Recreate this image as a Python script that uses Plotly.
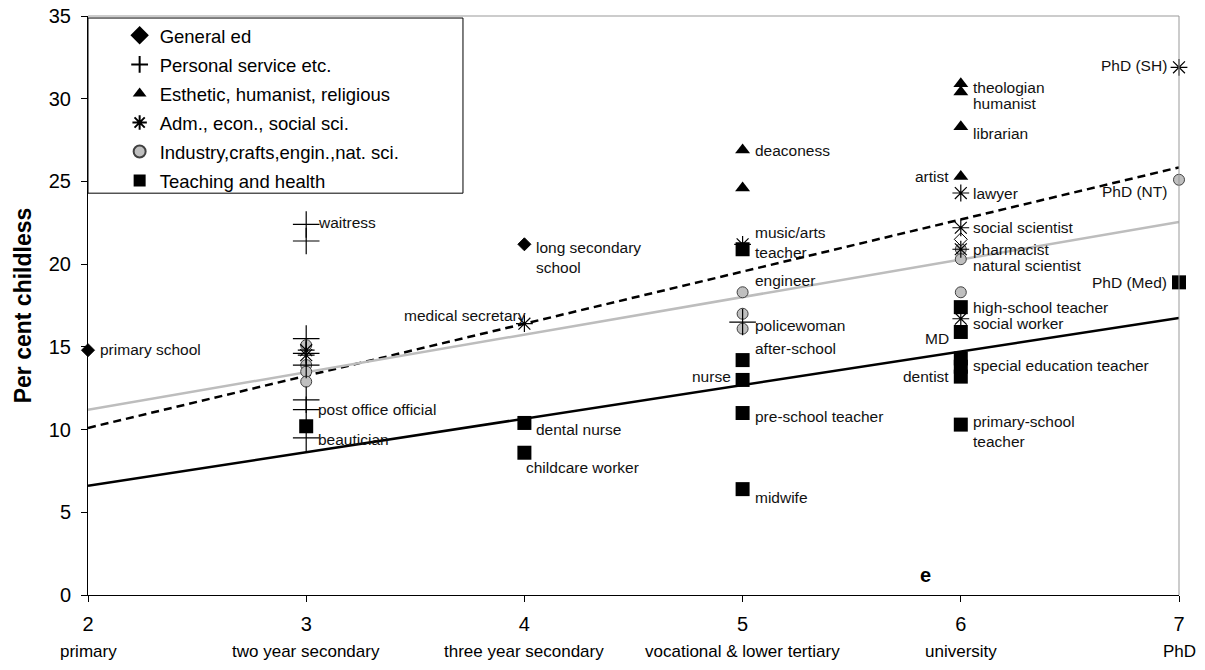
import plotly.graph_objects as go

# ---------------- data ----------------
levels = [2, 3, 4, 5, 6, 7]
level_names = ["primary", "two year secondary", "three year secondary",
               "vocational & lower tertiary", "university", "PhD"]
y_ticks = [0, 5, 10, 15, 20, 25, 30, 35]

gen_x = [2, 4, 6]
gen_y = [14.8, 21.2, 21.5]

pers_x = [3, 3, 3, 3, 3, 3, 3, 3, 5]
pers_y = [22.4, 21.4, 15.5, 14.6, 13.9, 11.8, 11.2, 9.5, 16.5]

est_x = [5, 5, 6, 6, 6, 6]
est_y = [26.9, 24.6, 30.9, 30.4, 28.3, 25.3]

adm_x = [3, 3, 4, 5, 6, 6, 6, 6, 7]
adm_y = [14.8, 14.5, 16.4, 21.2, 24.3, 22.2, 20.9, 16.7, 31.9]

ind_x = [3, 3, 3, 3, 5, 5, 5, 6, 6, 6, 7]
ind_y = [15.1, 13.9, 13.5, 12.9, 18.3, 17.0, 16.1, 20.9, 20.3, 18.3, 25.1]

teach_x = [3, 4, 4, 5, 5, 5, 5, 5, 6, 6, 6, 6, 6, 6, 7]
teach_y = [10.2, 10.4, 8.6, 20.9, 14.2, 13.0, 11.0, 6.4,
           17.4, 15.9, 14.3, 13.8, 13.2, 10.3, 18.9]

trend_x = [2, 7]
trend_dashed = [10.1, 25.85]
trend_gray = [11.2, 22.55]
trend_solid = [6.6, 16.75]

# point labels: text, x, y (text centre), side of the marker
lab_text = ["primary school", "waitress", "post office official", "beautician",
            "medical secretary", "long secondary<br>school", "dental nurse",
            "childcare worker", "deaconess", "music/arts<br>teacher", "engineer",
            "policewoman", "after-school", "nurse", "pre-school teacher", "midwife",
            "theologian", "humanist", "librarian", "artist", "lawyer",
            "social scientist", "pharmacist", "natural scientist",
            "high-school teacher", "social worker", "MD",
            "special education teacher", "dentist", "primary-school<br>teacher",
            "PhD (SH)", "PhD (NT)", "PhD (Med)"]
lab_x = [2, 3, 3, 3, 4, 4, 4, 4, 5, 5, 5, 5, 5, 5, 5, 5,
         6, 6, 6, 6, 6, 6, 6, 6, 6, 6, 6, 6, 6, 6, 7, 7, 7]
lab_y = [14.85, 22.5, 11.2, 9.4, 16.9, 20.4, 10.0, 7.7, 26.9, 21.3, 19.0,
         16.3, 14.9, 13.2, 10.8, 5.9,
         30.7, 29.7, 27.9, 25.3, 24.3, 22.2, 20.9, 19.9, 17.4, 16.4, 15.5,
         13.9, 13.2, 9.9, 32.0, 24.4, 18.9]
lab_side = ["r", "r", "r", "r", "l0", "r", "r", "c", "r", "r", "r",
            "r", "r", "l", "r", "r",
            "r", "r", "r", "l", "r", "r", "r", "r", "r", "r", "l",
            "r", "l", "r", "l", "l", "l"]

# ---------------- figure ----------------
FONT = "Liberation Sans, Arial, sans-serif"
fig = go.Figure()

for ty, st in [(trend_dashed, dict(color="black", width=2.5, dash="8px,5px")),
               (trend_gray, dict(color="#bdbdbd", width=2.5)),
               (trend_solid, dict(color="black", width=2.5))]:
    fig.add_trace(go.Scatter(x=trend_x, y=ty, mode="lines", line=st,
                             showlegend=False, hoverinfo="skip"))

series = [
    ("Industry,crafts,engin.,nat. sci.", ind_x, ind_y,
     dict(symbol="circle", size=11, color="#bfbfbf", line=dict(color="#404040", width=1)), 5),
    ("General ed", gen_x, gen_y,
     dict(symbol="diamond", size=10, color=["black", "black", "white"],
          line=dict(color="black", width=1)), 1),
    ("Esthetic, humanist, religious", est_x, est_y,
     dict(symbol="triangle-up", size=13, color="black"), 3),
    ("Adm., econ., social sci.", adm_x, adm_y,
     dict(symbol="asterisk-open", size=14, color="black", line=dict(color="black", width=1.2)), 4),
    ("Personal service etc.", pers_x, pers_y,
     dict(symbol="cross-thin-open", size=19, color="black", line=dict(color="black", width=1.2)), 2),
    ("Teaching and health", teach_x, teach_y,
     dict(symbol="square", size=14, color="black"), 6),
]
for name, xs, ys, mk, rank in series:
    fig.add_trace(go.Scatter(x=xs, y=ys, mode="markers", name=name, marker=mk,
                             legendrank=rank, legendgroup=name, cliponaxis=False))

annotations = []
for t, x, y, s in zip(lab_text, lab_x, lab_y, lab_side):
    if s == "r":
        xa, xs = "left", 10
    elif s == "l":
        xa, xs = "right", -10
    elif s == "l0":
        xa, xs = "right", 4
    else:
        xa, xs = "left", 0
    annotations.append(dict(x=x, y=y, xref="x", yref="y", text=t, showarrow=False,
                            xanchor=xa, yanchor="middle", xshift=xs, align="left",
                            font=dict(family=FONT, size=15.5, color="#111")))

for lv, nm in zip(levels, level_names):
    annotations.append(dict(x=lv, y=-0.098, xref="x", yref="paper", text=nm,
                            showarrow=False, xanchor="center", yanchor="middle",
                            font=dict(family=FONT, size=17, color="black")))

annotations.append(dict(x=5.84, y=1.2, xref="x", yref="y", text="<b>e</b>",
                        showarrow=False, xanchor="center", yanchor="middle",
                        font=dict(family=FONT, size=20, color="black")))

shapes = [
    dict(type="rect", xref="paper", yref="paper", x0=0, x1=0.3437, y0=0.694, y1=0.9965,
         line=dict(color="black", width=1), fillcolor="white", layer="below"),
    dict(type="line", xref="paper", yref="paper", x0=0, x1=1, y0=1, y1=1,
         line=dict(color="#999999", width=1)),
    dict(type="line", xref="paper", yref="paper", x0=1, x1=1, y0=0, y1=1,
         line=dict(color="#999999", width=1)),
]

# page body has an 8px margin: size and margins compensate for it
fig.update_layout(
    width=1189, height=654,
    margin=dict(l=80, r=18, t=8, b=67, autoexpand=False),
    plot_bgcolor="white", paper_bgcolor="white",
    font=dict(family=FONT, color="black"),
    showlegend=True,
    legend=dict(x=0.029, y=0.9986, xanchor="left", yanchor="top",
                bgcolor="rgba(0,0,0,0)", borderwidth=0,
                font=dict(family=FONT, size=18.5, color="black"),
                traceorder="grouped", tracegroupgap=2, itemsizing="constant"),
    xaxis=dict(range=[2, 7], tickvals=levels, ticktext=[str(v) for v in levels],
               ticks="outside", ticklen=6, tickcolor="black", ticklabelstandoff=5,
               ticklabeloverflow="allow",
               tickfont=dict(family=FONT, size=20, color="black"),
               showline=True, linecolor="black", linewidth=1,
               showgrid=False, zeroline=False, automargin=False),
    yaxis=dict(range=[0, 35], tickvals=y_ticks, ticks="outside", ticklen=6,
               tickcolor="black", ticklabelstandoff=6, ticklabeloverflow="allow",
               tickfont=dict(family=FONT, size=20, color="black"),
               showline=True, linecolor="black", linewidth=1,
               showgrid=False, zeroline=False, automargin=False,
               title=dict(text="<b>Per cent childless</b>", standoff=10,
                          font=dict(family=FONT, size=23, color="black"))),
    annotations=annotations,
    shapes=shapes,
)

fig.write_html("out.html")
